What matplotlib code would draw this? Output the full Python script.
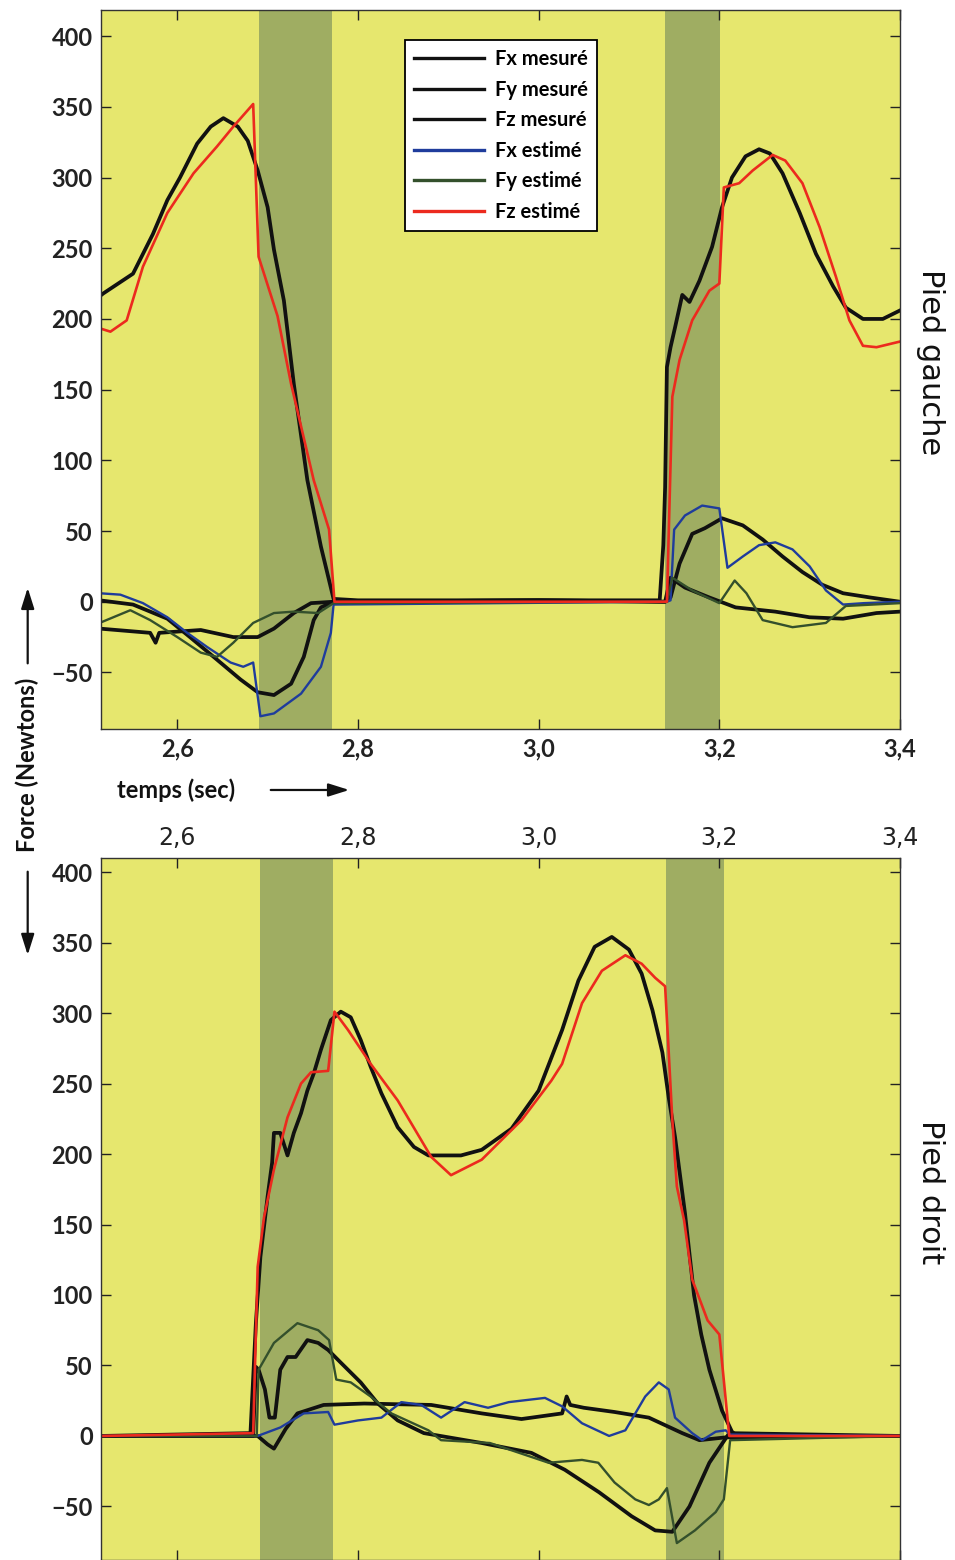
import matplotlib
matplotlib.use("Agg")
import matplotlib.pyplot as plt
from matplotlib.ticker import FuncFormatter
from matplotlib.patches import FancyArrowPatch

# ---------------- DATA (time in s, force in N) ----------------
# Top panel: Pied gauche
g_t_fx_mes = [2.514, 2.551, 2.589, 2.614, 2.644, 2.670, 2.689, 2.707, 2.726, 2.740, 2.751, 2.759, 2.773, 3.000, 3.140,
              3.146, 3.156, 3.170, 3.184, 3.203, 3.226, 3.248, 3.270, 3.292, 3.314, 3.337, 3.367, 3.400]
g_fx_mes = [1, -2, -12, -25, -41, -55, -64, -66, -58, -39, -13, -4, 0, 1, 0,
            3, 27, 48, 52, 59, 54, 44, 32, 21, 12, 6, 3, 0]

g_t_fy_mes = [2.514, 2.570, 2.576, 2.580, 2.626, 2.662, 2.689, 2.707, 2.729, 2.748, 2.773, 3.000, 3.140,
              3.146, 3.162, 3.189, 3.218, 3.262, 3.300, 3.337, 3.374, 3.400]
g_fy_mes = [-19, -22, -29, -22, -20, -25, -25, -19, -8, -1, 0, 1, 0,
            17, 10, 3, -4, -7, -11, -12, -8, -7]

g_t_fz_mes = [2.516, 2.518, 2.551, 2.573, 2.589, 2.603, 2.622, 2.637, 2.651, 2.667, 2.678, 2.689, 2.700, 2.707,
              2.718, 2.729, 2.744, 2.759, 2.773, 2.800, 3.000, 3.134, 3.138, 3.140, 3.142, 3.146, 3.151, 3.159,
              3.167, 3.178, 3.192, 3.203, 3.214, 3.229, 3.244, 3.256, 3.270, 3.289, 3.307, 3.326, 3.340, 3.359,
              3.381, 3.400]
g_fz_mes = [217, 218, 232, 260, 284, 300, 324, 336, 342, 336, 326, 305, 279, 249,
            213, 154, 86, 39, 2, 1, 1, 1, 40, 81, 166, 180, 194, 217,
            212, 227, 251, 279, 300, 315, 320, 317, 303, 275, 246, 223, 208, 200,
            200, 206]

g_t_fx_est = [2.514, 2.537, 2.562, 2.589, 2.611, 2.633, 2.659, 2.673, 2.684, 2.692, 2.707, 2.737, 2.759, 2.770, 2.773,
              3.142, 3.146, 3.150, 3.162, 3.181, 3.200, 3.209, 3.226, 3.244, 3.262, 3.281, 3.300, 3.318, 3.337,
              3.360, 3.400]
g_fx_est = [6, 5, -1, -11, -22, -32, -43, -46, -43, -81, -79, -65, -46, -22, -2,
            0, 1, 51, 61, 68, 66, 24, 32, 40, 42, 37, 25, 8, -2,
            -1, 0]

g_t_fy_est = [2.514, 2.548, 2.570, 2.600, 2.626, 2.644, 2.662, 2.684, 2.707, 2.729, 2.756, 2.773, 3.142,
              3.148, 3.170, 3.200, 3.217, 3.230, 3.248, 3.281, 3.318, 3.340, 3.400]
g_fy_est = [-15, -6, -13, -25, -36, -39, -29, -15, -8, -7, -8, -1, 0,
            17, 8, -1, 15, 6, -13, -18, -15, -3, -1]

g_t_fz_est = [2.516, 2.526, 2.544, 2.562, 2.589, 2.618, 2.644, 2.662, 2.684, 2.690, 2.711, 2.726, 2.751, 2.768,
              2.774, 3.142, 3.148, 3.156, 3.170, 3.189, 3.200, 3.205, 3.222, 3.237, 3.259, 3.273, 3.292, 3.311,
              3.329, 3.344, 3.359, 3.374, 3.400]
g_fz_est = [193, 191, 199, 237, 275, 303, 322, 336, 352, 244, 202, 154, 86, 51,
            0, 0, 145, 171, 199, 220, 225, 293, 296, 305, 316, 312, 296, 265,
            230, 199, 181, 180, 184]

# Bottom panel: Pied droit
d_t_fx_mes = [2.516, 2.689, 2.700, 2.707, 2.720, 2.733, 2.762, 2.807, 2.881, 2.937, 2.981, 3.026, 3.031, 3.035,
              3.050, 3.084, 3.122, 3.159, 3.178, 3.207, 3.400]
d_fx_mes = [0, 0, -6, -9, 5, 16, 22, 23, 22, 16, 12, 16, 28, 22,
            20, 17, 13, 2, -3, -1, 0]

d_t_fy_mes = [2.516, 2.684, 2.687, 2.690, 2.697, 2.702, 2.708, 2.714, 2.722, 2.731, 2.744, 2.756, 2.767, 2.781,
              2.803, 2.822, 2.844, 2.873, 2.937, 2.992, 3.029, 3.067, 3.103, 3.129, 3.148, 3.167, 3.189, 3.211,
              3.400]
d_fy_mes = [0, 0, 49, 47, 33, 13, 13, 47, 56, 56, 68, 66, 61, 52,
            38, 23, 11, 2, -5, -12, -24, -40, -57, -67, -68, -50, -19, 2,
            0]

d_t_fz_mes = [2.516, 2.681, 2.687, 2.692, 2.700, 2.705, 2.707, 2.714, 2.722, 2.729, 2.737, 2.744, 2.751, 2.759,
              2.770, 2.781, 2.792, 2.803, 2.814, 2.826, 2.844, 2.862, 2.878, 2.914, 2.937, 2.970, 3.000, 3.026,
              3.044, 3.062, 3.081, 3.100, 3.114, 3.126, 3.137, 3.144, 3.151, 3.162, 3.172, 3.180, 3.189, 3.203,
              3.214, 3.220, 3.400]
d_fz_mes = [0, 2, 80, 127, 170, 194, 215, 215, 199, 215, 229, 245, 257, 274,
            295, 301, 297, 281, 262, 243, 219, 205, 199, 199, 203, 218, 245, 288,
            323, 347, 354, 345, 328, 302, 272, 240, 212, 158, 100, 72, 47, 18,
            3, 0, 0]

d_t_fx_est = [2.516, 2.689, 2.714, 2.740, 2.767, 2.774, 2.800, 2.826, 2.848, 2.870, 2.892, 2.918, 2.944, 2.967,
              3.007, 3.026, 3.048, 3.078, 3.096, 3.118, 3.133, 3.144, 3.151, 3.170, 3.181, 3.196, 3.207, 3.212,
              3.400]
d_fx_est = [0, 0, 6, 16, 17, 8, 11, 13, 24, 22, 13, 24, 20, 24,
            27, 21, 9, 0, 4, 28, 38, 33, 13, 2, -3, 3, 4, 1,
            0]

d_t_fy_est = [2.516, 2.688, 2.690, 2.707, 2.733, 2.756, 2.768, 2.776, 2.792, 2.814, 2.837, 2.878, 2.892, 2.946,
              3.011, 3.048, 3.066, 3.084, 3.107, 3.122, 3.133, 3.142, 3.153, 3.173, 3.196, 3.205, 3.212, 3.400]
d_fy_est = [0, 0, 47, 66, 80, 75, 68, 40, 38, 28, 16, 4, -3, -5,
            -19, -17, -19, -33, -45, -49, -45, -37, -76, -67, -54, -45, -3, 0]

d_t_fz_est = [2.516, 2.684, 2.689, 2.696, 2.707, 2.722, 2.737, 2.748, 2.767, 2.774, 2.789, 2.814, 2.844, 2.881,
              2.903, 2.937, 2.981, 3.014, 3.026, 3.048, 3.070, 3.096, 3.114, 3.129, 3.140, 3.144, 3.148, 3.153,
              3.161, 3.170, 3.187, 3.200, 3.211, 3.400]
d_fz_est = [0, 2, 120, 155, 189, 226, 250, 258, 259, 301, 288, 264, 238, 198,
            185, 196, 224, 252, 264, 307, 330, 341, 335, 325, 319, 272, 224, 177,
            153, 111, 82, 72, 0, 0]

bands_gauche = [(2.691, 2.771), (3.140, 3.201)]
bands_droit = [(2.692, 2.772), (3.141, 3.205)]

labels = ["Fx mesuré", "Fy mesuré", "Fz mesuré", "Fx estimé", "Fy estimé", "Fz estimé"]
x_ticks = [2.6, 2.8, 3.0, 3.2, 3.4]
y_ticks = [-50, 0, 50, 100, 150, 200, 250, 300, 350, 400]

# ---------------- STYLE ----------------
YELLOW = "#e6e76e"
BAND = "#9fad62"
BLACK = "#111111"
BLUE = "#1f3c9c"
GREEN = "#34502c"
RED = "#ec2a1e"
TICKFONT = "Lato"
WEIGHT = "bold"

fig = plt.figure(figsize=(9.55, 15.6), dpi=100)
ax_top = fig.add_axes([0.1058, 0.5327, 0.8366, 0.4609])
ax_bot = fig.add_axes([0.1058, 0.0, 0.8366, 0.45])

comma = FuncFormatter(lambda v, p: f"{v:.1f}".replace(".", ","))
yfmt = FuncFormatter(lambda v, p: f"{int(v)}".replace("-", "\u2212"))


def draw(ax, bands, series, ylim):
    ax.set_facecolor(YELLOW)
    for a, b in bands:
        ax.axvspan(a, b, color=BAND, lw=0, zorder=0.5)
    styles = [(BLACK, 2.7), (BLACK, 2.7), (BLACK, 2.7), (BLUE, 1.7), (GREEN, 1.7), (RED, 1.9)]
    handles = []
    for (t, f), (c, lw), lab in zip(series, styles, labels):
        h, = ax.plot(t, f, color=c, lw=lw, label=lab, solid_joinstyle="round", zorder=2)
        handles.append(h)
    ax.set_xlim(2.5156, 3.4)
    ax.set_ylim(*ylim)
    ax.set_xticks(x_ticks)
    ax.set_yticks(y_ticks)
    ax.xaxis.set_major_formatter(comma)
    ax.yaxis.set_major_formatter(yfmt)
    ax.tick_params(direction="in", top=True, right=True, length=7, width=1, labelsize=17,
                   colors="#222222", pad=6)
    for lab in ax.get_xticklabels() + ax.get_yticklabels():
        lab.set_fontfamily(TICKFONT)
        lab.set_fontweight(WEIGHT)
    for s in ax.spines.values():
        s.set_color("#333333")
        s.set_linewidth(1.0)
    return handles


h = draw(ax_top, bands_gauche,
         [(g_t_fx_mes, g_fx_mes), (g_t_fy_mes, g_fy_mes), (g_t_fz_mes, g_fz_mes),
          (g_t_fx_est, g_fx_est), (g_t_fy_est, g_fy_est), (g_t_fz_est, g_fz_est)],
         (-90, 418.5))
draw(ax_bot, bands_droit,
     [(d_t_fx_mes, d_fx_mes), (d_t_fy_mes, d_fy_mes), (d_t_fz_mes, d_fz_mes),
      (d_t_fx_est, d_fx_est), (d_t_fy_est, d_fy_est), (d_t_fz_est, d_fz_est)],
     (-88, 410))
ax_bot.tick_params(labeltop=True, labelbottom=False)

leg = ax_top.legend(handles=h, loc="upper left", bbox_to_anchor=(0.38, 0.958), frameon=True,
                    fancybox=False, framealpha=1, edgecolor="black", handlelength=3.5,
                    labelspacing=0.52, borderpad=0.45, handletextpad=0.55, borderaxespad=0,
                    prop={"family": TICKFONT, "weight": WEIGHT, "size": 14.5})
leg.get_frame().set_linewidth(1.3)
for line in leg.get_lines():
    line.set_linewidth(2.4)

# Side labels
fig.text(0.974, 0.768, "Pied gauche", rotation=-90, ha="center", va="center", fontsize=22,
         family="DejaVu Sans", color="#111111")
fig.text(0.974, 0.236, "Pied droit", rotation=-90, ha="center", va="center", fontsize=22,
         family="DejaVu Sans", color="#111111")

# Y label with arrows
fig.text(0.029, 0.5096, "Force (Newtons)", rotation=90, ha="center", va="center", fontsize=17,
         family=TICKFONT, weight=WEIGHT, color="#111111")
astyle = "-|>,head_length=0.7,head_width=0.22"
fig.add_artist(FancyArrowPatch((0.029, 0.5730), (0.029, 0.6250), transform=fig.transFigure,
                               mutation_scale=18, arrowstyle=astyle, lw=1.6, color="#111111"))
fig.add_artist(FancyArrowPatch((0.029, 0.4430), (0.029, 0.3860), transform=fig.transFigure,
                               mutation_scale=18, arrowstyle=astyle, lw=1.6, color="#111111"))

# X label with arrow
fig.text(0.1225, 0.4936, "temps (sec)", ha="left", va="center", fontsize=17,
         family=TICKFONT, weight=WEIGHT, color="#111111")
fig.add_artist(FancyArrowPatch((0.2806, 0.4936), (0.3686, 0.4936), transform=fig.transFigure,
                               mutation_scale=18, arrowstyle=astyle, lw=1.6, color="#111111"))

fig.savefig("out.png", dpi=100, facecolor="white")
